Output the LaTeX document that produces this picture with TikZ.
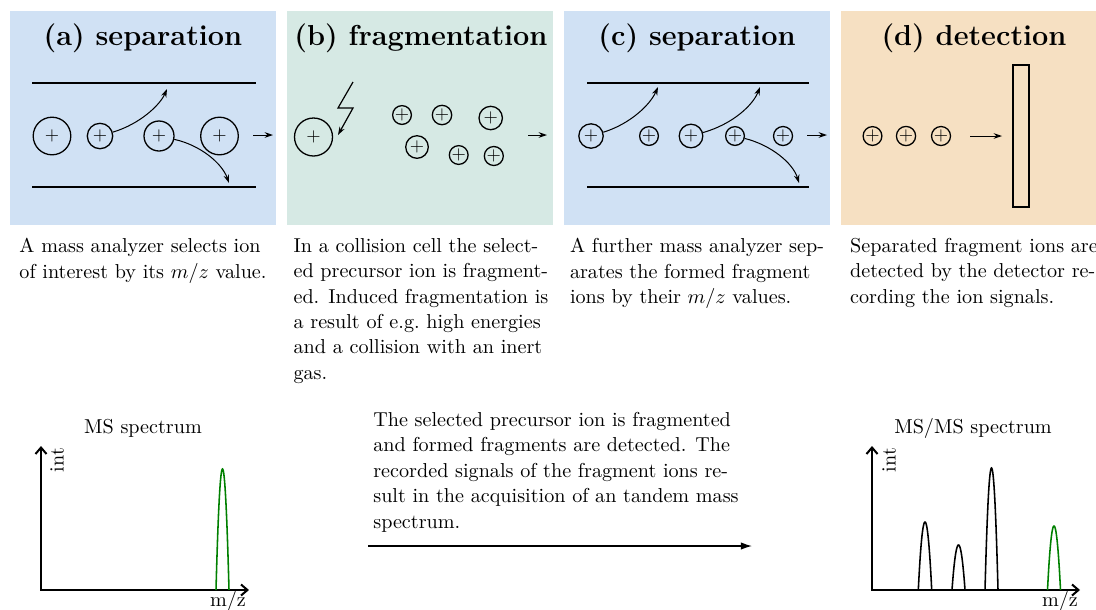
\documentclass[tikz,border=0pt]{standalone}
\usetikzlibrary{arrows.meta}
\definecolor{pblue}{RGB}{208,225,244}
\definecolor{pgreen}{RGB}{214,233,228}
\definecolor{porange}{RGB}{246,224,194}
\definecolor{pkgreen}{RGB}{0,128,0}
\begin{document}
\begin{tikzpicture}[x=0.5435pt,y=-0.5435pt,
  panelbg/.style={fill=#1,draw=none},
  title/.style={font=\fontsize{15.7}{18}\selectfont\bfseries,anchor=base,inner sep=0pt},
  ion/.style={circle,draw,line width=0.7pt,inner sep=0pt,minimum size={2*#1*0.5435pt},font=\fontsize{10}{10}\selectfont},
  plate/.style={line width=0.9pt},
  flow/.style={-{Stealth[length=4.5pt,width=3pt]},line width=0.55pt},
  body/.style={font=\fontsize{10.95}{13.8}\selectfont,align=left,anchor=north,inner sep=0pt},
  lbl/.style={font=\fontsize{10.95}{13.8}\selectfont,inner sep=0pt},
  axis/.style={line width=1.1pt,{Straight Barb[length=3.5pt,width=6pt]}-{Straight Barb[length=3.5pt,width=6pt]}},
  peak/.style={line width=0.85pt},
  bigarrow/.style={-{Latex[length=6pt,width=4pt]},line width=0.7pt}
]
\clip (0,0) rectangle (1096,609);
% panels
\fill[panelbg=pblue] (10,11) rectangle (276,225);
\fill[panelbg=pgreen] (287,11) rectangle (553,225);
\fill[panelbg=pblue] (564,11) rectangle (830,225);
\fill[panelbg=porange] (841,11) rectangle (1107,225);
% titles
\node[title] (ta) at (143,45) {(a) separation};
\node[title] (tb) at (421,45) {(b) fragmentation};
\node[title] (tc) at (697,45) {(c) separation};
\node[title] (td) at (974,45) {(d) detection};
% ---- panel (a)
\draw[plate] (32,83) -- (256,83);
\draw[plate] (32,187) -- (256,187);
\node[ion=18.8] (a1) at (52,136) {$+$};
\node[ion=12.7] (a2) at (100,136) {$+$};
\node[ion=15] (a3) at (159,136) {$+$};
\node[ion=18.8] (a4) at (219.5,136) {$+$};
\coordinate (aup) at (167,89);
\coordinate (adn) at (229,183);
\draw[flow] (a2) .. controls (140,124) and (160,105) .. (aup);
\draw[flow] (a3) .. controls (200,145) and (222,163) .. (adn);
\coordinate (aar1) at (253,135);
\coordinate (aar2) at (273,135);
\draw[flow] (aar1) -- (aar2);
% ---- panel (b)
\node[ion=19] (b0) at (313.5,137) {$+$};
\coordinate (z1) at (353,82);
\coordinate (z2) at (338,108);
\coordinate (z3) at (353,108);
\coordinate (z4) at (338,135);
\draw[flow,line width=0.65pt] (z1) -- (z2) -- (z3) -- (z4);
\node[ion=8.8] (b1) at (402,115) {$+$};
\node[ion=9.7] (b2) at (442,115) {$+$};
\node[ion=11.7] (b3) at (490.7,118) {$+$};
\node[ion=11.3] (b4) at (417,147) {$+$};
\node[ion=8] (b5) at (458.7,155) {$+$};
\node[ion=9.5] (b6) at (493.8,156) {$+$};
\coordinate (bar1) at (528,135);
\coordinate (bar2) at (547,135);
\draw[flow] (bar1) -- (bar2);
% ---- panel (c)
\draw[plate] (587,83) -- (809,83);
\draw[plate] (587,187) -- (809,187);
\node[ion=12.2] (c1) at (591,136) {$+$};
\node[ion=9.2] (c2) at (649,136) {$+$};
\node[ion=11.8] (c3) at (691,136) {$+$};
\node[ion=9.3] (c4) at (735,136) {$+$};
\node[ion=9.5] (c5) at (783,136) {$+$};
\coordinate (cup1) at (658,87);
\coordinate (cup2) at (760,87);
\coordinate (cdn) at (799,183);
\draw[flow] (c1) .. controls (630,124) and (650,105) .. (cup1);
\draw[flow] (c3) .. controls (733,124) and (753,105) .. (cup2);
\draw[flow] (c4) .. controls (771,145) and (793,163) .. (cdn);
\coordinate (car1) at (807,135);
\coordinate (car2) at (827,135);
\draw[flow] (car1) -- (car2);
% ---- panel (d)
\node[ion=9.2] (d1) at (872.5,136) {$+$};
\node[ion=9.6] (d2) at (906,136) {$+$};
\node[ion=9.5] (d3) at (941,136) {$+$};
\node[draw,line width=0.8pt,inner sep=0pt,minimum width={16*0.5435pt},minimum height={142*0.5435pt}] (det) at (1021,136) {};
\coordinate (dar1) at (970,136);
\coordinate (dar2) at (1002,136);
\draw[flow] (dar1) -- (dar2);
% ---- descriptions
\node[body] (txa) at (143,238) {A mass analyzer selects ion\\of interest by its $m/z$ value.};
\node[body] (txb) at (421,238) {In a collision cell the select-\\ed precursor ion is fragment-\\ed. Induced fragmentation is\\a result of e.g.\ high energies\\and a collision with an inert\\gas.};
\node[body] (txc) at (697,238) {A further mass analyzer sep-\\arates the formed fragment\\ions by their $m/z$ values.};
\node[body] (txd) at (974,238) {Separated fragment ions are\\detected by the detector re-\\cording the ion signals.};
\node[body] (txm) at (556,412) {The selected precursor ion is fragmented\\and formed fragments are detected. The\\recorded signals of the fragment ions re-\\sult in the acquisition of an tandem mass\\spectrum.};
\coordinate (m1) at (368,546);
\coordinate (m2) at (752,546);
\draw[bigarrow] (m1) -- (m2);
% ---- MS spectrum
\node[lbl,anchor=base] (ms1) at (143,433) {MS spectrum};
\coordinate (o1) at (41,590);
\coordinate (y1) at (41,446);
\coordinate (x1) at (249,590);
\draw[axis] (y1) -- (o1) -- (x1);
\node[lbl,rotate=90] (int1) at (57,460) {int};
\node[lbl,anchor=base] (mz1) at (228,606) {m/z};
\draw[peak,pkgreen] plot[domain=-1:1,samples=41,smooth] ({222.5+6.5*\x},{590-121*(1-\x*\x)});
% ---- MS/MS spectrum
\node[lbl,anchor=base] (ms2) at (973,433) {MS/MS spectrum};
\coordinate (o2) at (872,590);
\coordinate (y2) at (872,446);
\coordinate (x2) at (1080,590);
\draw[axis] (y2) -- (o2) -- (x2);
\node[lbl,rotate=90] (int2) at (889,460) {int};
\node[lbl,anchor=base] (mz2) at (1060,606) {m/z};
\draw[peak] plot[domain=-1:1,samples=41,smooth] ({925+6.7*\x},{590-68*(1-\x*\x)});
\draw[peak] plot[domain=-1:1,samples=41,smooth] ({958.5+6.5*\x},{590-45*(1-\x*\x)});
\draw[peak] plot[domain=-1:1,samples=41,smooth] ({991.5+6.5*\x},{590-122*(1-\x*\x)});
\draw[peak,pkgreen] plot[domain=-1:1,samples=41,smooth] ({1054+6.5*\x},{590-64*(1-\x*\x)});
\end{tikzpicture}
\end{document}
